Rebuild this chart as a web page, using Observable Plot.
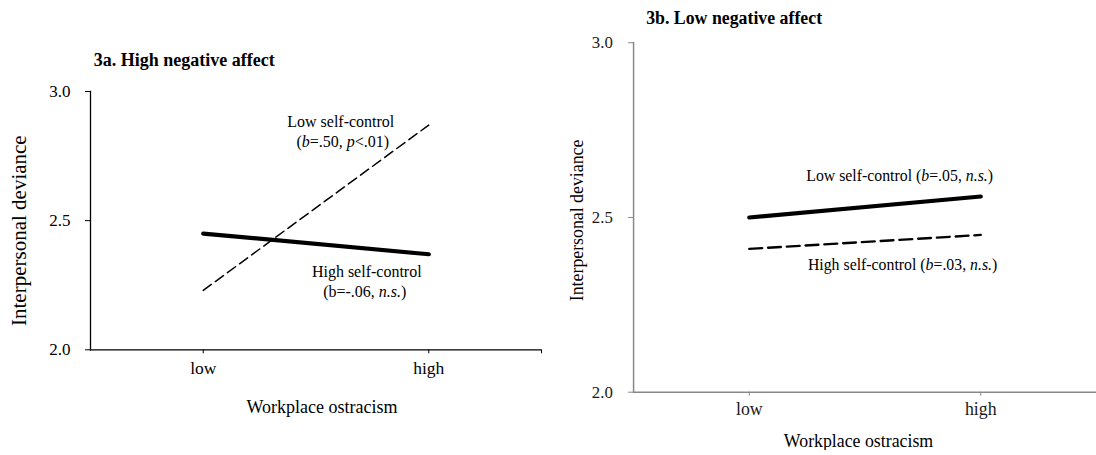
<!DOCTYPE html>
<html>
<head>
<meta charset="utf-8">
<script src="https://cdn.jsdelivr.net/npm/d3@7"></script>
<script src="https://cdn.jsdelivr.net/npm/@observablehq/plot@0.6"></script>
<style>
  html, body { margin: 0; padding: 0; background: #fff; overflow: hidden; }
  #wrap { position: relative; width: 1096px; height: 455px; overflow: hidden; }
  #panelA, #panelB { position: absolute; top: 0; }
  #panelA { left: 0; }
  #panelB { left: 548px; }
</style>
</head>
<body>
<div id="wrap"><div id="panelA"></div><div id="panelB"></div></div>
<script>
// ---------- data ----------
const categories = ["low", "high"];
const seriesNames = ["Low self-control", "High self-control"];
const yTicks = [2.0, 2.5, 3.0];
const yDomain = [2.0, 3.0];

// 3a. High negative affect
const titleA = "3a. High negative affect";
const lowSC_A = [2.23, 2.87];
const highSC_A = [2.45, 2.37];
const labelsLowA = ["Low self-control", "(*b*=.50, *p*<.01)"];
const labelsHighA = ["High self-control", "(b=-.06, *n.s.*)"];

// 3b. Low negative affect
const titleB = "3b. Low negative affect";
const lowSC_B = [2.50, 2.56];
const highSC_B = [2.41, 2.45];
const labelsLowB = ["Low self-control (*b*=.05, *n.s.*)"];
const labelsHighB = ["High self-control (*b*=.03, *n.s.*)"];

const xTitle = "Workplace ostracism";
const yTitle = "Interpersonal deviance";

// ---------- helpers ----------
const FONT = "'Liberation Serif', 'Times New Roman', serif";
function rows(values, series) {
  return categories.map((c, i) => ({x: c, y: values[i], series}));
}
function italicize(svg) {
  svg.querySelectorAll("text").forEach(t => {
    const s = t.textContent;
    if (!s.includes("*")) return;
    t.textContent = "";
    s.split("*").forEach((part, i) => {
      if (!part) return;
      const ts = document.createElementNS("http://www.w3.org/2000/svg", "tspan");
      if (i % 2 === 1) ts.setAttribute("font-style", "italic");
      ts.textContent = part;
      t.appendChild(ts);
    });
  });
}

// ---------- panel A ----------
{
  const width = 548, height = 455;
  const mL = 90, mR = 7, mT = 91, mB = 105.7;
  const half = (width - mL - mR) / 4;
  const lowData = rows(lowSC_A, seriesNames[0]);
  const highData = rows(highSC_A, seriesNames[1]);
  const last = (d) => [d[d.length - 1]];
  const svg = Plot.plot({
    width, height,
    marginLeft: mL, marginRight: mR, marginTop: mT, marginBottom: mB,
    style: {fontFamily: FONT, fontSize: "17px", color: "#000", background: "transparent"},
    x: {type: "band", domain: categories, padding: 0, round: false},
    y: {domain: yDomain},
    marks: [
      Plot.axisY({ticks: yTicks, tickFormat: d3.format(".1f"), tickSize: 5, tickPadding: 15, label: null, stroke: "#000", fill: "#000", strokeWidth: 1, fontSize: 17}),
      Plot.axisX({tickSize: 4, tickPadding: 7.5, label: null, stroke: "#000", fill: "#000", strokeWidth: 1, fontSize: 17.5}),
      Plot.ruleX(categories.slice(-1), {x: d => d, y1: yDomain[0], y2: yDomain[0], insetBottom: -4, dx: half, stroke: "#000", strokeWidth: 1}),
      Plot.frame({anchor: "left", stroke: "#000", strokeWidth: 1.3}),
      Plot.ruleY([yDomain[0]], {stroke: "#000", strokeWidth: 1.3}),
      Plot.line(lowData, {x: "x", y: "y", stroke: "#000", strokeWidth: 1.5, strokeDasharray: "10,5"}),
      Plot.line(highData, {x: "x", y: "y", stroke: "#000", strokeWidth: 4.2, strokeLinecap: "round"}),
      Plot.text(last(lowData), {x: "x", y: "y", text: () => labelsLowA[0], dx: -88, dy: -3, fontSize: 16, textAnchor: "middle", lineAnchor: "middle"}),
      Plot.text(last(lowData), {x: "x", y: "y", text: () => labelsLowA[1], dx: -86, dy: 16.5, fontSize: 16, textAnchor: "middle", lineAnchor: "middle"}),
      Plot.text(last(highData), {x: "x", y: "y", text: () => labelsHighA[0], dx: -62, dy: 17.5, fontSize: 16, textAnchor: "middle", lineAnchor: "middle"}),
      Plot.text(last(highData), {x: "x", y: "y", text: () => labelsHighA[1], dx: -64, dy: 37.5, fontSize: 16, textAnchor: "middle", lineAnchor: "middle"}),
      Plot.text([titleA], {frameAnchor: "top-left", text: d => d, dx: 3.3, dy: -30.8, fontSize: 18, fontWeight: "bold", textAnchor: "start", lineAnchor: "middle"}),
      Plot.text([yTitle], {frameAnchor: "left", text: d => d, rotate: -90, dx: -65, dy: 10, fontSize: 21, textAnchor: "middle", lineAnchor: "bottom"}),
      Plot.text([xTitle], {frameAnchor: "bottom", text: d => d, dx: 6, dy: 57, fontSize: 18, textAnchor: "middle", lineAnchor: "middle"})
    ]
  });
  italicize(svg);
  document.getElementById("panelA").appendChild(svg);
}

// ---------- panel B ----------
{
  const width = 554, height = 455;
  const mL = 86, mR = 0, mT = 42.7, mB = 59;
  const axisGray = "#878787";
  const lowData = rows(lowSC_B, seriesNames[0]);
  const highData = rows(highSC_B, seriesNames[1]);
  const last = (d) => [d[d.length - 1]];
  const svg = Plot.plot({
    width, height,
    marginLeft: mL, marginRight: mR, marginTop: mT, marginBottom: mB,
    style: {fontFamily: FONT, fontSize: "17px", color: "#000", background: "transparent"},
    x: {type: "band", domain: categories, padding: 0, round: false},
    y: {domain: yDomain},
    marks: [
      Plot.axisY({ticks: yTicks, tickFormat: d3.format(".1f"), tickSize: 5, tickPadding: 16, label: null, stroke: axisGray, fill: "#1a1a1a", strokeWidth: 1, fontSize: 17}),
      Plot.axisX({tickSize: 4, tickPadding: 6, label: null, stroke: axisGray, fill: "#1a1a1a", strokeWidth: 1, fontSize: 18}),
      Plot.frame({anchor: "left", stroke: axisGray, strokeWidth: 1.5}),
      Plot.ruleY([yDomain[0]], {stroke: axisGray, strokeWidth: 1.5}),
      Plot.line(lowData, {x: "x", y: "y", stroke: "#000", strokeWidth: 4.2, strokeLinecap: "round"}),
      Plot.line(highData, {x: "x", y: "y", stroke: "#000", strokeWidth: 2.4, strokeDasharray: "13,6"}),
      Plot.text(last(lowData), {x: "x", y: "y", text: () => labelsLowB[0], dx: -82, dy: -21, fontSize: 16, textAnchor: "middle", lineAnchor: "middle"}),
      Plot.text(last(highData), {x: "x", y: "y", text: () => labelsHighB[0], dx: -79, dy: 30, fontSize: 16, textAnchor: "middle", lineAnchor: "middle"}),
      Plot.text([titleB], {frameAnchor: "top-left", text: d => d, dx: 12.7, dy: -24.5, fontSize: 18, fontWeight: "bold", textAnchor: "start", lineAnchor: "middle"}),
      Plot.text([yTitle], {frameAnchor: "left", text: d => d, rotate: -90, dx: -50.7, dy: 3, fontSize: 18, textAnchor: "middle", lineAnchor: "bottom"}),
      Plot.text([xTitle], {frameAnchor: "bottom", text: d => d, dx: -6.6, dy: 50, fontSize: 18, textAnchor: "middle", lineAnchor: "middle"})
    ]
  });
  italicize(svg);
  document.getElementById("panelB").appendChild(svg);
}
</script>
</body>
</html>
